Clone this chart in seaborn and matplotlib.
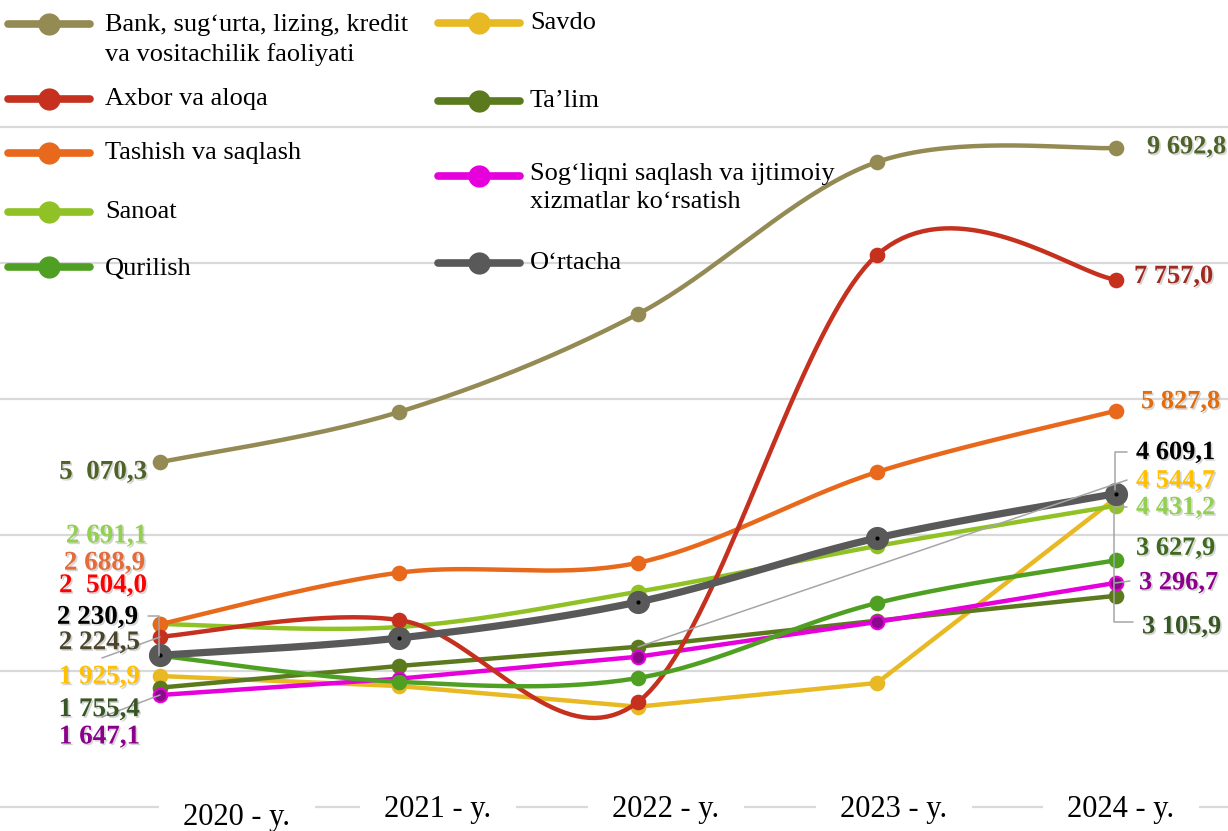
import numpy as np
import pandas as pd
import seaborn as sns
import matplotlib.pyplot as plt
import matplotlib.patheffects as pe

# data
years = ["2020 - y.", "2021 - y.", "2022 - y.", "2023 - y.", "2024 - y."]

bank = [5070.3, 5809, 7250, 9485, 9692.8]
axborot = [2504.0, 2750, 1544, 8118, 7757.0]
tashish = [2688.9, 3446, 3592, 4926, 5827.8]
sanoat = [2691.1, 2647, 3166, 3838, 4431.2]
qurilish = [2224.5, 1840, 1897, 3000, 3627.9]
savdo = [1925.9, 1779, 1475, 1824, 4544.7]
talim = [1755.4, 2074, 2357, 2740, 3105.9]
sogliq = [1647.1, 1887, 2210, 2721, 3296.7]
ortacha = [2230.9, 2485, 3015, 3956, 4609.1]

names = ["Bank, sug‘urta, lizing, kredit\nva vositachilik faoliyati", "Axbor va aloqa",
         "Tashish va saqlash", "Sanoat", "Qurilish", "Savdo", "Ta’lim",
         "Sog‘liqni saqlash va ijtimoiy\nxizmatlar ko‘rsatish", "O‘rtacha"]
values = [bank, axborot, tashish, sanoat, qurilish, savdo, talim, sogliq, ortacha]
smoothed = [True, True, True, True, True, False, False, False, True]
line_colors = ["#948A54", "#C5311E", "#E8691B", "#90C226", "#4FA022",
               "#E8B923", "#5A7A1D", "#E500DC", "#595959"]
marker_faces = ["#948A54", "#C5311E", "#E8691B", "#90C226", "#4FA022",
                "#E8B923", "#5A7A1D", "#8B0A8B", "#595959"]
draw_order = [0, 5, 6, 7, 3, 2, 1, 4, 8]

# value label colors (first year / last year)
left_colors = ["#4F6228", "#FF0000", "#E46C3A", "#92D050", "#4A452A",
               "#FFC000", "#375623", "#8B008B", "#000000"]
right_colors = ["#4F6228", "#9E2A20", "#E46C0A", "#92D050", "#3F6A1F",
                "#FFC000", "#375623", "#8B008B", "#000000"]
left_text = ["5  070,3", "2  504,0", "2 688,9", "2 691,1", "2 224,5",
             "1 925,9", "1 755,4", "1 647,1", "2 230,9"]
right_text = ["9 692,8", "7 757,0", "5 827,8", "4 431,2", "3 627,9",
              "4 544,7", "3 105,9", "3 296,7", "4 609,1"]
# label offsets in pixels from the marker
left_off = [(-13, -10), (-13, 51), (-15, 61), (-13, 88), (-20, 13),
            (-20, -1), (-20, -22), (-20, -42), (-22, 38)]
right_off = [(31, 1), (18, 3), (25, 9), (20, -2), (20, 12),
             (20, 17), (26, -31), (23, 0), (20, 41)]

# canvas geometry (pixels)
W, H = 1228, 831
X0, XSTEP = 160, 239
Y0, YSCALE = 807, 0.068


def px(x, y):
    return (x - X0) / XSTEP, (Y0 - y) / YSCALE


def smooth(xs, ys, n=40):
    # excel-like smoothed line (bezier with 1/6 tangents)
    P = np.column_stack([xs, ys]).astype(float)
    out = []
    t = np.linspace(0, 1, n)[:, None]
    for i in range(len(P) - 1):
        p0, p3 = P[i], P[i + 1]
        prev = P[i - 1] if i > 0 else P[i]
        nxt = P[i + 2] if i + 2 < len(P) else P[i + 1]
        c1 = p0 + (p3 - prev) / 6
        c2 = p3 - (nxt - p0) / 6
        seg = (1 - t) ** 3 * p0 + 3 * (1 - t) ** 2 * t * c1 + 3 * (1 - t) * t ** 2 * c2 + t ** 3 * p3
        out.append(seg if i == 0 else seg[1:])
    return np.vstack(out)


sns.set_theme(style="white")
plt.rcParams["font.family"] = ["Liberation Serif", "DejaVu Serif"]

fig = plt.figure(figsize=(W / 100, H / 100), dpi=100)
ax = fig.add_axes([0, 0, 1, 1])
ax.set_xlim(px(0, 0)[0], px(W, 0)[0])
ax.set_ylim(px(0, H)[1], px(0, 0)[1])

xs = np.arange(len(years))
shadow = [pe.SimplePatchShadow(offset=(1.2, -1.2), shadow_rgbFace="#888888", alpha=0.35), pe.Normal()]

for k, i in enumerate(draw_order):
    if smoothed[i]:
        curve = smooth(xs, values[i])
    else:
        curve = np.column_stack([xs, values[i]])
    df = pd.DataFrame({"x": curve[:, 0], "y": curve[:, 1]})
    is_avg = i == 8
    sns.lineplot(data=df, x="x", y="y", ax=ax, color=line_colors[i], sort=False,
                 estimator=None, lw=5.2 if is_avg else 3.2, zorder=3 + k)
    pts = pd.DataFrame({"x": xs, "y": values[i]})
    sns.scatterplot(data=pts, x="x", y="y", ax=ax, color=marker_faces[i],
                    edgecolor=line_colors[i], linewidth=1.5,
                    s=230 if is_avg else 95, zorder=3.5 + k)
    if is_avg:
        sns.scatterplot(data=pts, x="x", y="y", ax=ax, color="black", s=9,
                        linewidth=0, zorder=4 + k)

# value labels
for i in range(len(values)):
    ax.annotate(left_text[i], xy=(0, values[i][0]), xytext=left_off[i],
                textcoords="offset pixels", ha="right", va="center",
                fontsize=19.5, fontweight="bold", color=left_colors[i],
                path_effects=shadow, zorder=30)
    ax.annotate(right_text[i], xy=(4, values[i][-1]), xytext=right_off[i],
                textcoords="offset pixels", ha="left", va="center",
                fontsize=19, fontweight="bold", color=right_colors[i],
                path_effects=shadow, zorder=30)

# leader lines
leaders = [
    [(148, 616), (159, 616), (159, 656)],
    [(102, 658), (160, 637)],
    [(102, 717), (160, 695)],
    [(638, 647), (1127, 480)],
    [(1127, 452), (1115, 452), (1115, 490)],
    [(1127, 507), (1114, 507), (1114, 622), (1133, 622)],
    [(1130, 581), (1115, 583)],
]
for pl in leaders:
    d = np.array([px(a, b) for a, b in pl])
    ax.plot(d[:, 0], d[:, 1], color="#A6A6A6", lw=1.1, zorder=20)

# grid and baseline
ax.set_yticks(np.arange(0, 10001, 2000))
ax.set_xticks([])
ax.grid(axis="y", color="#D9D9D9", lw=1.6)
ax.tick_params(length=0, labelleft=False, labelbottom=False)
for s in ax.spines.values():
    s.set_visible(False)
ax.set_xlabel("")
ax.set_ylabel("")

# category labels
tick_dx = [77, 39, 28, 17, 5]
tick_y = [818, 809, 809, 809, 809]
for i, lab in enumerate(years):
    tx, ty = px(X0 + XSTEP * i + tick_dx[i], tick_y[i])
    ax.text(tx, ty, lab, ha="center", va="center", fontsize=22, color="black",
            bbox=dict(boxstyle="square,pad=0.8", fc="white", ec="none"), zorder=25)

# legend drawn by hand in two columns
left_rows = [(0, 24, 40), (1, 99, 99), (2, 153, 153), (3, 212, 212), (4, 267, 269)]
right_rows = [(5, 23, 23), (6, 101, 101), (7, 176, 188), (8, 263, 263)]
for rows, hx, tx in [(left_rows, 8, 105), (right_rows, 438, 530)]:
    for i, hy, ty in rows:
        a = px(hx, hy)
        b = px(hx + 82, hy)
        m = px(hx + 41, hy)
        ax.plot([a[0], b[0]], [a[1], b[1]], color=line_colors[i], lw=5.5,
                solid_capstyle="round", zorder=40)
        ax.plot([m[0]], [m[1]], "o", color=line_colors[i], ms=15, zorder=41)
        t = px(tx, ty)
        ax.text(t[0], t[1], names[i], ha="left", va="center", fontsize=19,
                linespacing=1.35, color="black", zorder=42)

fig.savefig("out.png", dpi=100)
